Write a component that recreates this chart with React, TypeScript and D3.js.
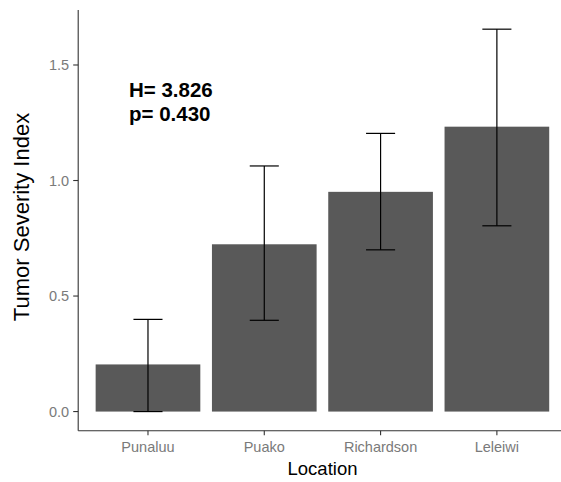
import React from "react";
import * as d3 from "d3";

const locations = ["Punaluu", "Puako", "Richardson", "Leleiwi"];
const severity = [0.204, 0.724, 0.951, 1.233];
const errLow = [0.0, 0.395, 0.7, 0.804];
const errHigh = [0.399, 1.063, 1.204, 1.655];
const yTicks = [0, 0.5, 1.0, 1.5];
const statLines = ["H= 3.826", "p= 0.430"];

const W = 561;
const H = 482;
const FONT = "'Liberation Sans', Arial, sans-serif";

export default function App() {
  const panelLeft = 78.2;
  const panelTop = 10;
  const panelBottom = 430.7;

  const yMin = -0.0828;
  const yMax = 1.738;
  const y = d3.scaleLinear().domain([yMin, yMax]).range([panelBottom, panelTop]);

  const x = d3
    .scaleBand<string>()
    .domain(locations)
    .range([panelLeft, panelLeft + 4.2 * 116.3])
    .paddingInner(0.1)
    .paddingOuter(0.15);

  const step = x.step();
  const capHalf = step * 0.125;
  const tickColor = "#333";
  const labelColor = "#7a7a7a";

  return (
    <svg
      width={W}
      height={H}
      style={{ position: "absolute", left: 0, top: 0, background: "#fff" }}
      fontFamily={FONT}
    >
      {/* bars */}
      {locations.map((loc, i) => (
        <rect
          key={loc}
          x={x(loc)!}
          y={y(severity[i])}
          width={x.bandwidth()}
          height={y(0) - y(severity[i])}
          fill="#595959"
        />
      ))}

      {/* error bars */}
      {locations.map((loc, i) => {
        const cx = x(loc)! + x.bandwidth() / 2;
        return (
          <g key={loc + "-err"} stroke="#000" strokeWidth={1.2} fill="none">
            <line x1={cx} x2={cx} y1={y(errLow[i])} y2={y(errHigh[i])} />
            <line x1={cx - capHalf} x2={cx + capHalf} y1={y(errLow[i])} y2={y(errLow[i])} />
            <line x1={cx - capHalf} x2={cx + capHalf} y1={y(errHigh[i])} y2={y(errHigh[i])} />
          </g>
        );
      })}

      {/* axes */}
      <line x1={panelLeft} x2={panelLeft} y1={panelTop} y2={panelBottom} stroke={tickColor} strokeWidth={1.1} />
      <line x1={panelLeft} x2={W} y1={panelBottom} y2={panelBottom} stroke={tickColor} strokeWidth={1.1} />

      {yTicks.map((t) => (
        <g key={t}>
          <line x1={panelLeft - 5} x2={panelLeft} y1={y(t)} y2={y(t)} stroke={tickColor} strokeWidth={1.1} />
          <text
            x={panelLeft - 9}
            y={y(t)}
            dy="0.36em"
            textAnchor="end"
            fontSize={14.5}
            fill={labelColor}
          >
            {d3.format(".1f")(t)}
          </text>
        </g>
      ))}

      {locations.map((loc) => {
        const cx = x(loc)! + x.bandwidth() / 2;
        return (
          <g key={loc + "-tick"}>
            <line x1={cx} x2={cx} y1={panelBottom} y2={panelBottom + 4.5} stroke={tickColor} strokeWidth={1.1} />
            <text x={cx} y={452} textAnchor="middle" fontSize={14.5} fill={labelColor}>
              {loc}
            </text>
          </g>
        );
      })}

      {/* axis titles */}
      <text x={322.5} y={475} textAnchor="middle" fontSize={18.5} fill="#000">
        Location
      </text>
      <text
        transform={`translate(28.5,217) rotate(-90)`}
        textAnchor="middle"
        fontSize={22}
        fill="#000"
      >
        Tumor Severity Index
      </text>

      {/* test statistic annotation */}
      {statLines.map((s, i) => (
        <text key={s} x={129} y={96.7 + i * 24} fontSize={20.5} fontWeight="bold" fill="#000">
          {s}
        </text>
      ))}
    </svg>
  );
}
